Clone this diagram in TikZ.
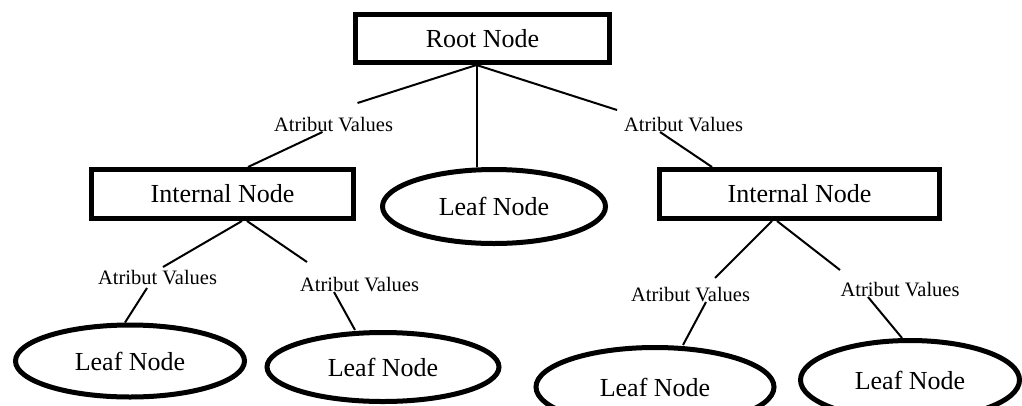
\documentclass[tikz,border=0pt]{standalone}
\usepackage{fontspec}
\setmainfont{Liberation Serif}
\usetikzlibrary{shapes.geometric}

\tikzset{
  treebox/.style={draw, rectangle, line width=5pt, inner sep=0pt, font=\fontsize{26}{30}\selectfont},
  leafnode/.style={draw, ellipse, line width=5pt, inner sep=0pt, font=\fontsize{26}{30}\selectfont},
  attrlabel/.style={inner sep=0pt, font=\fontsize{20.5}{24}\selectfont},
  branch/.style={line width=2pt}
}

\begin{document}
\begin{tikzpicture}[x=1pt, y=-1pt]
\useasboundingbox (0,0) rectangle (1022,405);

% Internal nodes
\node[treebox, minimum width=254pt, minimum height=48pt] (root) at (482.5,38.5) {Root Node};
\node[treebox, minimum width=262pt, minimum height=49pt] (intL) at (222.5,194) {Internal Node};
\node[treebox, minimum width=280pt, minimum height=49pt] (intR) at (799.5,194) {Internal Node};
\coordinate (rootfoot) at ([xshift=-6pt]root.south);

% Leaf nodes
\node[leafnode, minimum width=223pt, minimum height=74pt] (leafM)  at (494,206.5) {Leaf Node};
\node[leafnode, minimum width=229pt, minimum height=72pt] (leafLL) at (130,361)   {Leaf Node};
\node[leafnode, minimum width=232pt, minimum height=69pt] (leafLR) at (383,367)   {Leaf Node};
\node[leafnode, minimum width=238pt, minimum height=79pt] (leafRL) at (655,387)   {Leaf Node};
\node[leafnode, minimum width=219pt, minimum height=79pt] (leafRR) at (910,380)   {Leaf Node};

% Attribute labels
\foreach \name/\x/\y in {labA/333.5/125, labB/683.5/125, labC/157.5/278,
                         labD/359.5/285, labE/690.5/295, labF/900/290} {
    \node[attrlabel] (\name) at (\x,\y) {Atribut Values};
}

% Branches
\draw[branch] (rootfoot) -- ([shift={(24,-22)}]labA.center);
\draw[branch] ([shift={(-11,7)}]labA.center) -- ([xshift=25.5pt]intL.north);
\draw[branch] (rootfoot) -- (rootfoot |- leafM.north);
\draw[branch] (rootfoot) -- ([shift={(-66.5,-15)}]labB.center);
\draw[branch] ([shift={(-23.5,7)}]labB.center) -- ([xshift=-87.5pt]intR.north);

\draw[branch] ([xshift=19.5pt]intL.south) -- ([shift={(5.5,-11)}]labC.center);
\draw[branch] ([shift={(-10.5,10)}]labC.center) -- ([xshift=-5pt]leafLL.north);
\draw[branch] ([xshift=24.5pt]intL.south) -- ([shift={(-52.5,-23)}]labD.center);
\draw[branch] ([shift={(-25.5,7)}]labD.center) -- ([xshift=-28pt]leafLR.north);

\draw[branch] ([xshift=-27.5pt]intR.south) -- ([shift={(24.5,-17)}]labE.center);
\draw[branch] ([shift={(15.5,7)}]labE.center) -- ([xshift=28pt]leafRL.north);
\draw[branch] ([xshift=-22.5pt]intR.south) -- ([shift={(-60,-20)}]labF.center);
\draw[branch] ([shift={(-32,7)}]labF.center) -- ([xshift=-8pt]leafRR.north);
\end{tikzpicture}
\end{document}
